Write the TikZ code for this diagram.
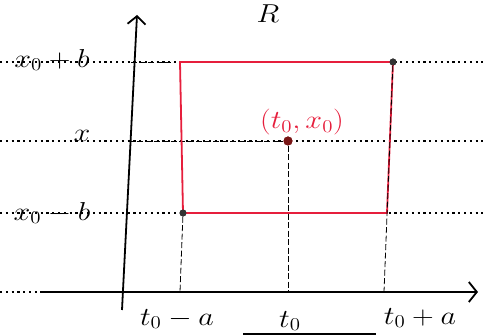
\documentclass[tikz,border=0pt]{standalone}
\usepackage{graphicx}
\usetikzlibrary{arrows.meta}
\definecolor{penred}{RGB}{230,30,60}
\definecolor{dotred}{RGB}{120,20,20}
\newcommand\handlbl[1]{\scalebox{1.45}[1.25]{#1}}
\tikzset{
  guide/.style={line width=2.2pt, dash pattern=on 2.2pt off 3.6pt},
  drop/.style={line width=0.8pt, dash pattern=on 6pt off 2.5pt},
  axisline/.style={line width=1.8pt},
  box/.style={penred, line width=1.8pt},
  lbl/.style={font=\huge, inner sep=0pt},
  pt/.style={circle, fill=black!80, inner sep=0pt, minimum size=7pt},
}
\begin{document}
\begin{tikzpicture}[x=1pt,y=-1pt]
\useasboundingbox (0,0) rectangle (483,336);
% guide lines
\draw[guide] (0,62) -- (483,62);
\draw[guide] (0,141) -- (483,141);
\draw[guide] (0,213) -- (483,213);
\draw[guide] (0,292) -- (40,292);
% axes
\coordinate (yb) at (122,310);
\coordinate (yt) at (137,15);
\draw[axisline,-{Straight Barb[length=8pt,width=18pt]}] (yb) -- (yt);
\coordinate (xl) at (40,292);
\coordinate (xr) at (478,292);
\draw[axisline,-{Straight Barb[length=8pt,width=20pt]}] (xl) -- (xr);
% points
\node[pt,fill=none] (tl) at (180,62) {};
\node[pt,fill=none] (br) at (387,213) {};
\node[pt] (tr) at (393,62) {};
\node[pt] (bl) at (183,213) {};
\node[pt,fill=dotred,minimum size=9pt] (c) at (288,141) {};
% dashed parts near axis
\coordinate (a1) at (131,62);
\coordinate (a2) at (128,141);
\draw[drop] (a1) -- (tl);
\draw[drop] (a2) -- (c);
% rectangle
\draw[box] (tl.center) -- (tr.center) -- (br.center) -- (bl.center) -- cycle;
% drops to t axis
\coordinate (d1) at (180,292);
\coordinate (d2) at (288,292);
\coordinate (d3) at (384,292);
\draw[drop] (bl) -- (d1);
\draw[drop] (c) -- (d2);
\draw[drop] (tr) -- (d3);
\node[pt] at (393,62) {};
\node[pt] at (183,213) {};
\node[pt,fill=dotred,minimum size=9pt] at (288,141) {};
% labels
\node[lbl] (R) at (268,14) {\handlbl{$R$}};
\node[lbl] (lxb) at (52,60) {\handlbl{$x_0+b$}};
\node[lbl] (lx) at (82,136) {\handlbl{$x$}};
\node[lbl] (lxm) at (52,213) {\handlbl{$x_0-b$}};
\node[lbl,text=penred] (lc) at (302,122) {\handlbl{$(t_0,x_0)$}};
\node[lbl] (l1) at (177,319) {\handlbl{$t_0-a$}};
\node[lbl] (l2) at (290,321) {\handlbl{$t_0$}};
\node[lbl] (l3) at (420,318) {\handlbl{$t_0+a$}};
\coordinate (u1) at (243,334);
\coordinate (u2) at (376,334);
\draw[line width=2pt] (u1) -- (u2);
\end{tikzpicture}
\end{document}
